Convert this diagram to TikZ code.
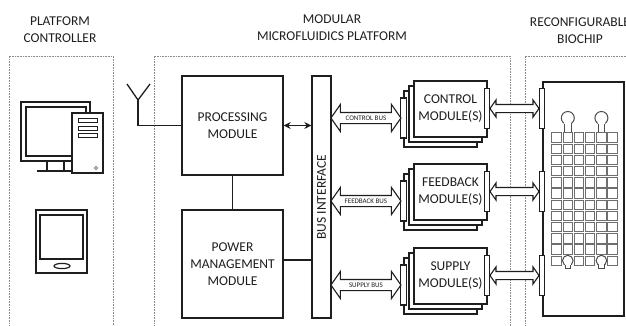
\documentclass[tikz,border=0pt]{standalone}
\usepackage{fontspec}
\setmainfont{Carlito}
\usetikzlibrary{shapes.arrows,arrows.meta,calc}

\definecolor{ink}{HTML}{1E1E1E}
\definecolor{frame}{HTML}{8C8C8C}
\definecolor{pad}{HTML}{6E6E6E}

\tikzset{
  txt/.style={font=\fontsize{13.5}{17}\selectfont, text=ink, align=center},
  title/.style={txt, inner sep=0pt},
  box/.style={txt, draw=ink, line width=1.3pt, fill=white, inner sep=0pt},
  modbox/.style={box, minimum width=73pt, minimum height=56pt},
  portbar/.style={draw=ink, line width=1.1pt, fill=white, inner sep=0pt,
    minimum width=5.5pt, minimum height=40pt},
  busarrow/.style={double arrow, draw=ink, line width=1.1pt, fill=white,
    double arrow head extend=8pt, double arrow tip angle=110,
    inner xsep=0pt, inner ysep=2pt, text height=5pt, text depth=1pt,
    font=\fontsize{7}{8}\selectfont, text=ink, minimum height=70pt},
  linkarrow/.style={double arrow, draw=ink, line width=1.1pt, fill=white,
    double arrow head extend=4.5pt, double arrow tip angle=110,
    inner xsep=0pt, inner ysep=3.5pt, text height=0pt, text depth=0pt,
    minimum height=49pt},
  region/.style={draw=frame, line width=0.6pt, densely dotted},
  wire/.style={draw=ink, line width=1.3pt},
  device/.style={draw=ink, line width=1.2pt},
  cell/.style={draw=pad, line width=1pt, fill=white},
}

% one stack of module cards with its input and output port bars
\newcommand\modstack[3]{%
  \node[modbox] (#13) at (440.5,#2+38) {};
  \node[modbox] (#12) at (445.5,#2+33) {};
  \node[modbox] (#1) at (450.5,#2+28) {#3};
  \node[portbar] (#1in) at (403.5,#2+37) {};
  \node[portbar] (#1out) at (487,#2+27.5) {};
}

\begin{document}
\begin{tikzpicture}[x=1pt,y=-1pt]
\useasboundingbox (0,0) rectangle (626,325);

% region titles
\node[title] (tctrl) at (60,30) {PLATFORM\\CONTROLLER};
\node[title] (tplat) at (332,28) {MODULAR\\MICROFLUIDICS PLATFORM};
\node[title] (tchip) at (580,30.5) {RECONFIGURABLE\\BIOCHIP};

% dotted region outlines
\draw[region] (9,330) -- (9,56) -- (113,56) -- (113,330);
\draw[region] (154,330) -- (154,56) -- (510,56) -- (510,330);
\draw[region] (525,330) -- (525,56) -- (640,56);

% desktop computer
\draw[device] (21,102) rectangle (90,161);
\draw[device] (26,107) rectangle (86,156);
\draw[device] (47,161) -- (47,171) (64,161) -- (64,171);
\draw[device] (37,171) -- (75,171);
\draw[device, fill=white] (72,113) rectangle (103,173);
\draw[device, line width=1pt] (78,118) rectangle (97,122);
\draw[device, line width=1pt] (78,126) rectangle (97,130);
\draw[device, line width=1pt] (78,133) rectangle (97,137);
\draw[draw=pad, line width=0.6pt] (96,168) circle[radius=1.6pt];

% tablet
\draw[device] (36,210) rectangle (87,273);
\draw[device] (40,215) rectangle (83,259);
\draw[device] (62,266) ellipse[x radius=8pt, y radius=2.6pt];

% platform blocks
\node[box, minimum width=101pt, minimum height=99pt] (proc) at (232.5,125.5)
  {PROCESSING\\MODULE};
\node[box, minimum width=101pt, minimum height=108pt] (pwr) at (232.5,264)
  {POWER\\MANAGEMENT\\MODULE};
\node[box, minimum width=19pt, minimum height=242pt] (bus) at (321.5,197) {};
\node[txt, rotate=90, inner sep=0pt] (buslabel) at (bus.center) {BUS INTERFACE};

% antenna
\coordinate (antfoot) at (138,100);
\coordinate (antl) at (127,84);
\coordinate (antr) at (150,84);
\draw[wire] (proc.west) -| (antfoot);
\draw[wire] (antl) -- (antfoot) -- (antr);

\draw[wire] (proc.south) -- (pwr.north);
\draw[wire, {Stealth[length=7pt,width=7pt]}-{Stealth[length=7pt,width=7pt]}]
  (proc.east) -- (proc.east -| bus.west);
\draw[wire] (pwr.east |- 0,260) -- (bus.west |- 0,260);

% module stacks
\modstack{ctl}{81}{CONTROL\\MODULE(S)}
\modstack{fbk}{164}{FEEDBACK\\MODULE(S)}
\modstack{sup}{248}{SUPPLY\\MODULE(S)}

% buses from the interface to each stack
\node[busarrow] (ctlbus) at ($(bus.east |- ctlin)!.5!(ctlin.west)$) {CONTROL BUS};
\node[busarrow] (fbkbus) at ($(bus.east |- fbkin)!.5!(fbkin.west)$) {FEEDBACK BUS};
\node[busarrow] (supbus) at ($(bus.east |- supin)!.5!(supin.west)$) {SUPPLY BUS};

% biochip
\node[draw=ink, line width=1.3pt, minimum width=81pt, minimum height=234pt,
  inner sep=0pt] (chip) at (583.5,199) {};
\node[portbar] (chipctl) at (542,108.5) {};
\node[portbar] (chipfbk) at (542,191.5) {};
\node[portbar] (chipsup) at (542,275.5) {};

\node[linkarrow] (ctllink) at ($(ctlout.east)!.5!(chipctl.west)$) {};
\node[linkarrow] (fbklink) at ($(fbkout.east)!.5!(chipfbk.west)$) {};
\node[linkarrow] (suplink) at ($(supout.east)!.5!(chipsup.west)$) {};

% electrode array
\foreach \r in {0,...,11}{
  \foreach \c in {0,...,5}{
    \pgfmathtruncatemacro\cellgap{(\r==11)&&((\c==1)||(\c==4))}
    \ifnum\cellgap=0
      \draw[cell] (551.9+11.2*\c,132.9+11.2*\r) rectangle ++(9.4,9.4);
    \fi
  }
}
% reservoirs above and below the array
\foreach \x in {567.8,601.4}{
  \draw[cell, draw=ink!80] (\x,118) circle[radius=6.5pt];
  \fill[white] (\x-3.4,121) rectangle (\x+3.4,132.4);
  \draw[cell, draw=ink!80] (\x-3.4,123.5) -- (\x-3.4,132.4)
    (\x+3.4,123.5) -- (\x+3.4,132.4);
  \draw[cell, draw=ink!80] (\x,260.6) circle[radius=5.3pt];
  \fill[white] (\x-2.7,262) rectangle (\x+2.7,268.6);
  \draw[cell, draw=ink!80] (\x-2.7,265.1) -- (\x-2.7,268.6) -- (\x+2.7,268.6)
    -- (\x+2.7,265.1);
}
\end{tikzpicture}
\end{document}
